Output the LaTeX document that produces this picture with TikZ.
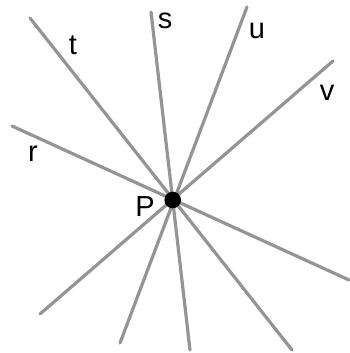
\documentclass[tikz,border=0pt]{standalone}
\usepackage{fontspec}
\setmainfont{Liberation Sans}
\usetikzlibrary{positioning}

\begin{document}
\begin{tikzpicture}[x=1pt, y=-1pt,
    ray/.style={draw=black!42, line width=3.2pt, line cap=round},
    lbl/.style={font=\fontsize{29}{34}\selectfont, inner sep=0pt}]
  \useasboundingbox (0,0) rectangle (349,353);
  % end points of the lines
  \coordinate (P) at (172.7,200);
  \coordinate (t1) at (30,18);   \coordinate (t2) at (292,350);
  \coordinate (s1) at (151,12);  \coordinate (s2) at (190,350);
  \coordinate (u1) at (247,7);   \coordinate (u2) at (120,343);
  \coordinate (v1) at (333,61);  \coordinate (v2) at (40,314);
  \coordinate (r1) at (12,126);  \coordinate (r2) at (349,280);
  % lines through P
  \foreach \n in {t,s,u,v,r}
    \draw[ray] (\n1) -- (\n2);
  \fill (P) circle (8.3);
  % labels
  \node[lbl] (lt) at (73,45) {t};
  \node[lbl] (ls) at (165,21) {s};
  \node[lbl] (lu) at (257,31) {u};
  \node[lbl] (lv) at (327,93) {v};
  \node[lbl] (lr) at (33,154) {r};
  \node[lbl] (lP) at (145,207) {P};
\end{tikzpicture}
\end{document}
